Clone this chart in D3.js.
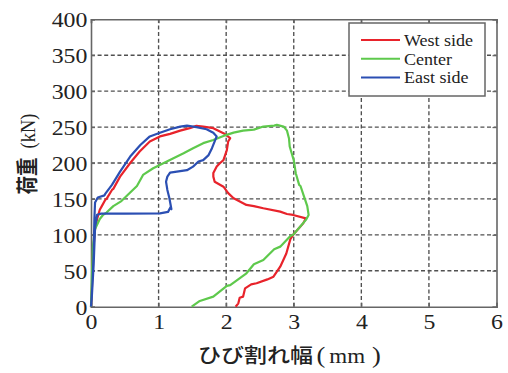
<!DOCTYPE html>
<html><head><meta charset="utf-8">
<script src="https://cdn.jsdelivr.net/npm/d3@7"></script>
<style>body{margin:0;background:#fff}svg{display:block}</style>
</head><body>
<svg id="c" width="508" height="373"></svg>
<script>
const xTicks = [0,1,2,3,4,5,6];
const yTicks = [0,50,100,150,200,250,300,350,400];
const seriesNames = ["West side","Center","East side"];
const seriesColors = ["#e8232b","#5ec94c","#2b4fb3"];

const westX = [0,0.01,0.03,0.06,0.09,0.13,0.16,0.21,0.23,0.31,0.33,0.43,0.58,0.72,0.87,1.02,1.17,1.32,1.46,1.56,1.66,1.81,1.96,2.06,2.03,2.01,1.96,1.91,1.86,1.81,1.81,1.83,1.96,2.03,2.11,2.16,2.30,2.41,2.55,2.80,2.90,2.99,3.18,3.14,2.99,2.95,2.89,2.80,2.70,2.61,2.45,2.37,2.28,2.25,2.20,2.18,2.14];
const westY = [0,15,75,108,122,135,140,148.6,150,162.5,164,181,200,216,230,237,240.5,245,248.5,251.7,250.7,248.5,241.5,234.5,230,218,204,200,195,186,181,174,167,158,151,148.6,141.6,140,137,132.3,129,127.7,123,116,100,94,74,55.7,41.8,38,32.6,31,25.6,14,12.5,4.7,0];

const centerX = [0,0.015,0.03,0.06,0.13,0.18,0.23,0.33,0.45,0.58,0.68,0.77,0.92,1.07,1.22,1.37,1.51,1.66,1.81,1.96,2.11,2.25,2.41,2.55,2.71,2.75,2.85,2.90,2.93,2.94,3.00,3.03,3.08,3.10,3.15,3.20,3.22,3.18,3.10,2.99,2.95,2.80,2.71,2.55,2.41,2.30,2.06,2.01,1.81,1.61,1.49];
const centerY = [0,47,84.5,108,122,128,131,140,147,159,168,183.4,192.7,199.7,206.7,213.6,220.6,227.6,232,237.7,242.3,245,246.5,250.7,252,253,250.7,245,234,223,204,185.8,169.5,168,154,140,127.7,120.8,112,100,98.5,83.6,80,65,59,46.5,30,29,14,8,0];

const eastX = [0,0.02,0.04,0.05,0.06,0.1,0.2,0.21,0.31,0.43,0.58,0.73,0.87,1.02,1.17,1.32,1.42,1.56,1.71,1.81,1.86,1.83,1.79,1.74,1.66,1.59,1.51,1.42,1.27,1.17,1.13,1.11,1.13,1.16,1.19,1.18,1.14,1.02,0.5,0.15,0.09,0.06,0.04,0.01,0];
const eastY = [0,29,75,122,145,152,155,157,169.5,188,209,225,237,242,247,250.7,252,250,247,242,237,230,220.6,211,204,202,195,190,188,186.6,181,174,162.5,151,135.6,139,132,130,129.5,129.5,128,110,60,10,0];

const W = 508, H = 373;
const m = {left:91, right:W-496.5, top:19.3, bottom:H-306.7};
const svg = d3.select("#c");
const x = d3.scaleLinear().domain([0,6]).range([m.left, W-m.right]);
const y = d3.scaleLinear().domain([0,400]).range([H-m.bottom, m.top]);

const serif = "'Liberation Serif','Times New Roman',serif";
const cjk = "'Noto Sans CJK JP','Noto Sans CJK SC',sans-serif";
const SX = 1.15; // horizontal stretch of the original artwork

// grid
const grid = svg.append("g").attr("stroke","#505050").attr("stroke-width",1.35).attr("stroke-dasharray","4,2.6");
xTicks.slice(1,-1).forEach(t=>grid.append("line").attr("x1",x(t)).attr("x2",x(t)).attr("y1",y(0)).attr("y2",y(400)));
yTicks.slice(1,-1).forEach(t=>grid.append("line").attr("x1",x(0)).attr("x2",x(6)).attr("y1",y(t)).attr("y2",y(t)));

// axes
const xAxis = d3.axisBottom(x).tickValues(xTicks).tickSize(-4).tickPadding(8).tickFormat(d3.format("d"));
const yAxis = d3.axisLeft(y).tickValues(yTicks).tickSize(-4).tickPadding(3.2).tickFormat(d3.format("d"));
const gx = svg.append("g").attr("transform",`translate(0,${y(0)})`).call(xAxis);
const gy = svg.append("g").attr("transform",`translate(${x(0)},0)`).call(yAxis);
svg.append("g").attr("transform",`translate(0,${y(400)})`).call(d3.axisTop(x).tickValues(xTicks).tickSize(-4).tickFormat(""));
svg.append("g").attr("transform",`translate(${x(6)},0)`).call(d3.axisRight(y).tickValues(yTicks).tickSize(-4).tickFormat(""));
svg.selectAll(".domain").attr("stroke","#666").attr("stroke-width",1.6);
svg.selectAll(".tick line").attr("stroke","#666").attr("stroke-width",1.2);
svg.selectAll(".tick text").attr("font-family",serif).attr("font-size","20.7px").attr("fill","#222")
  .attr("transform",`scale(${SX},1)`);
gx.selectAll(".tick text").attr("dy","0.71em");
gy.selectAll(".tick text").attr("dy","0.36em");

// series
const line = d3.line().x(d=>x(d[0])).y(d=>y(d[1]));
const series = [[westX,westY],[centerX,centerY],[eastX,eastY]];
series.forEach((s,i)=>{
  const pts = s[0].map((v,j)=>[v,s[1][j]]);
  svg.append("path").datum(pts).attr("d",line).attr("fill","none")
    .attr("stroke",seriesColors[i]).attr("stroke-width",2.2).attr("stroke-linejoin","round");
});

// legend
const lg = svg.append("g");
lg.append("rect").attr("x",349).attr("y",23).attr("width",136).attr("height",73)
  .attr("fill","#fff").attr("stroke","#666").attr("stroke-width",1.5);
seriesNames.forEach((n,i)=>{
  const cy = 40 + i*18.7;
  lg.append("line").attr("x1",361).attr("x2",400).attr("y1",cy).attr("y2",cy)
    .attr("stroke",seriesColors[i]).attr("stroke-width",2);
  lg.append("text").attr("transform",`translate(404,${cy+5.8}) scale(1.1,1)`).attr("font-family",serif)
    .attr("font-size","16.4px").attr("fill","#222").text(n);
});

// axis labels
const xl = svg.append("text").attr("transform",`translate(198,363) scale(${SX},1)`)
  .attr("font-size","20px").attr("fill","#222");
xl.append("tspan").attr("font-family",cjk).attr("font-weight",500).text("ひび割れ幅");
xl.append("tspan").attr("font-family",serif).attr("font-size","23px").attr("dx",3).text("(");
xl.append("tspan").attr("font-family",serif).attr("dx",3.5).text("mm");
xl.append("tspan").attr("font-family",serif).attr("font-size","23px").attr("dx",6).text(")");

const yl = svg.append("text").attr("transform",`translate(35,154) scale(${SX},1) rotate(-90)`)
  .attr("text-anchor","middle").attr("font-size","18.5px").attr("fill","#222");
yl.append("tspan").attr("font-family",cjk).attr("font-weight",700).text("荷重");
yl.append("tspan").attr("font-family",serif).attr("dx",9).text("(kN)");
</script>
</body></html>
